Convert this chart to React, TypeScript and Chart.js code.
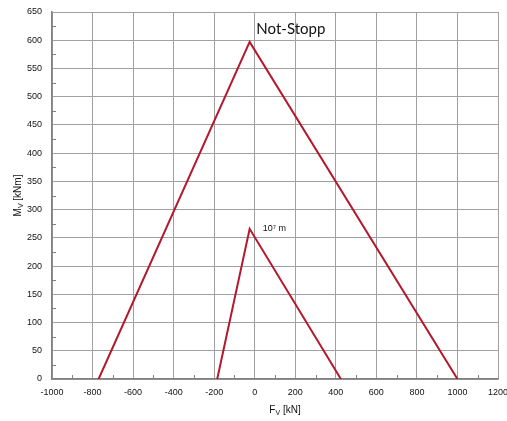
import React, { useEffect, useRef } from "react";
import { Chart, registerables } from "chart.js";

Chart.register(...registerables);

// Data
const notStoppFv = [-770, -25, 1000];
const notStoppMv = [0, 597, 0];
const tenMFv = [-185, -25, 425];
const tenMMv = [0, 266, 0];

const xTicksMin = -1000;
const xTicksMax = 1200;
const xStep = 200;
const yTicksMin = 0;
const yTicksMax = 650;
const yStep = 50;

const seriesLabels = ["Not-Stopp", "10⁷ m"];
const xTitleMain = "F";
const xTitleSub = "V";
const xTitleRest = " [kN]";
const yTitleMain = "M";
const yTitleSub = "V";
const yTitleRest = " [kNm]";

const LINE_COLOR = "#b3182d";
const GRID_COLOR = "#a0a0a0";
const AXIS_COLOR = "#808080";
const TEXT_COLOR = "#111";
const TICK_FONT = "Liberation Sans";

function toPoints(xs: number[], ys: number[]) {
  return xs.map((x, i) => ({ x, y: ys[i] }));
}

const decorPlugin = {
  id: "decor",
  afterDraw(chart: any) {
    const { ctx, chartArea, scales } = chart;
    const xs = scales.x;
    const ys = scales.y;
    ctx.save();
    // minor ticks
    ctx.strokeStyle = AXIS_COLOR;
    ctx.lineWidth = 1;
    ctx.beginPath();
    for (let v = yTicksMin + yStep / 2; v < yTicksMax; v += yStep) {
      const py = Math.round(ys.getPixelForValue(v)) + 0.5;
      ctx.moveTo(chartArea.left, py);
      ctx.lineTo(chartArea.left + 4, py);
    }
    for (let v = xTicksMin + xStep / 2; v < xTicksMax; v += xStep) {
      const px = Math.round(xs.getPixelForValue(v)) + 0.5;
      ctx.moveTo(px, chartArea.bottom);
      ctx.lineTo(px, chartArea.bottom - 4);
    }
    ctx.stroke();

    // series labels
    ctx.fillStyle = TEXT_COLOR;
    ctx.textBaseline = "middle";
    ctx.textAlign = "left";
    ctx.font = "15px Lato";
    ctx.fillText(seriesLabels[0], xs.getPixelForValue(8), ys.getPixelForValue(620));
    ctx.font = "9px 'Liberation Sans'";
    ctx.fillText(seriesLabels[1], xs.getPixelForValue(40), ys.getPixelForValue(267));

    // axis titles with subscript
    const drawTitle = (main: string, sub: string, rest: string) => {
      ctx.font = "10px 'Liberation Sans'";
      const w1 = ctx.measureText(main).width;
      const w3 = ctx.measureText(rest).width;
      ctx.font = "7px 'Liberation Sans'";
      const w2 = ctx.measureText(sub).width;
      const total = w1 + w2 + w3;
      let x = -total / 2;
      ctx.textAlign = "left";
      ctx.textBaseline = "alphabetic";
      ctx.font = "10px 'Liberation Sans'";
      ctx.fillText(main, x, 4);
      x += w1;
      ctx.font = "7px 'Liberation Sans'";
      ctx.fillText(sub, x, 6);
      x += w2;
      ctx.font = "10px 'Liberation Sans'";
      ctx.fillText(rest, x, 4);
    };
    ctx.save();
    ctx.translate((chartArea.left + chartArea.right) / 2 + 10, 409);
    drawTitle(xTitleMain, xTitleSub, xTitleRest);
    ctx.restore();
    ctx.save();
    ctx.translate(17, (chartArea.top + chartArea.bottom) / 2);
    ctx.rotate(-Math.PI / 2);
    drawTitle(yTitleMain, yTitleSub, yTitleRest);
    ctx.restore();

    ctx.restore();
  },
};

export default function App() {
  const ref = useRef<HTMLCanvasElement>(null);
  useEffect(() => {
    document.body.style.margin = "0";
    const chart = new Chart(ref.current as HTMLCanvasElement, {
      type: "line",
      data: {
        datasets: [
          {
            label: seriesLabels[0],
            data: toPoints(notStoppFv, notStoppMv),
            borderColor: LINE_COLOR,
            borderWidth: 2,
            pointRadius: 0,
            tension: 0,
          },
          {
            label: seriesLabels[1],
            data: toPoints(tenMFv, tenMMv),
            borderColor: LINE_COLOR,
            borderWidth: 2,
            pointRadius: 0,
            tension: 0,
          },
        ],
      },
      options: {
        animation: false,
        responsive: false,
        maintainAspectRatio: false,
        layout: { padding: { top: 12, right: 9, left: 0, bottom: 0 } },
        plugins: { legend: { display: false }, tooltip: { enabled: false } },
        scales: {
          x: {
            type: "linear",
            min: xTicksMin,
            max: xTicksMax,
            ticks: {
              stepSize: xStep,
              color: TEXT_COLOR,
              font: { family: TICK_FONT, size: 9 },
              padding: 8,
              maxRotation: 0,
              autoSkip: false,
              callback: (v: any) => String(v),
            },
            grid: { color: GRID_COLOR, drawTicks: false, lineWidth: 1 },
            border: { color: AXIS_COLOR, width: 1.5 },
            afterFit: (s: any) => {
              s.height = 42;
              s.paddingLeft = 0;
              s.paddingRight = 0;
            },
          },
          y: {
            type: "linear",
            min: yTicksMin,
            max: yTicksMax,
            ticks: {
              stepSize: yStep,
              color: TEXT_COLOR,
              font: { family: TICK_FONT, size: 9 },
              padding: 10,
              callback: (v: any) => String(v),
            },
            grid: { color: GRID_COLOR, drawTicks: false, lineWidth: 1 },
            border: { color: AXIS_COLOR, width: 1.5 },
            afterFit: (s: any) => {
              s.width = 52;
              s.paddingTop = 0;
              s.paddingBottom = 0;
            },
          },
        },
      },
      plugins: [decorPlugin],
    } as any);
    return () => chart.destroy();
  }, []);
  return (
    <div style={{ width: 507, height: 421, background: "#fff" }}>
      <canvas ref={ref} width={507} height={421} />
    </div>
  );
}
